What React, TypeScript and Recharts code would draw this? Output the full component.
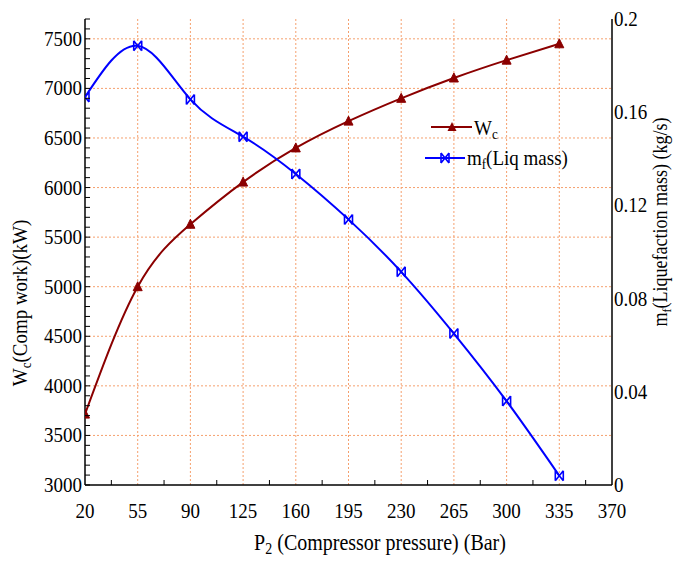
import React from 'react';
import { LineChart, Line, XAxis, YAxis, CartesianGrid } from 'recharts';

// ---- data ----
const pressure = [20, 55, 90, 125, 160, 195, 230, 265, 300, 335];
const compWork = [3715, 5000, 5630, 6055, 6400, 6670, 6900, 7105, 7285, 7450];
const liqMass = [0.1665, 0.1885, 0.1655, 0.1495, 0.1335, 0.114, 0.0915, 0.065, 0.036, 0.004];

const xMajorTicks = [20, 55, 90, 125, 160, 195, 230, 265, 300, 335, 370];
const xMinorTicks = [37.5, 72.5, 107.5, 142.5, 177.5, 212.5, 247.5, 282.5, 317.5, 352.5];
const leftMajorTicks = [3000, 3500, 4000, 4500, 5000, 5500, 6000, 6500, 7000, 7500];
const rightTicks = [0, 0.04, 0.08, 0.12, 0.16, 0.2];

const leftMinorStep = 100;
const leftDomain = [3000, 7700];

const leftAllTicks: number[] = [];
for (let v = leftDomain[0]; v <= leftDomain[1]; v += leftMinorStep) leftAllTicks.push(v);
const bottomAllTicks = [...xMajorTicks, ...xMinorTicks].sort((a, b) => a - b);

const data = pressure.map((p, i) => ({ p, wc: compWork[i], mf: liqMass[i] }));

const FONT = 'Liberation Serif';
const TS = { fontFamily: FONT };
const SY = 1.12; // vertical stretch of the reference's lettering
const WC_COLOR = '#8B0000';
const MF_COLOR = '#0000FF';
const GRID_COLOR = '#F5A06E';

const BottomTick = (props: any) => {
  const { x, y, payload } = props;
  const v = payload.value;
  const isMajor = xMajorTicks.includes(v);
  return (
    <g>
      {!isMajor && <line x1={x} x2={x} y1={y} y2={y - 5} stroke="#000" strokeWidth={1} />}
      {isMajor && (
        <text
          transform={`translate(${x},${y + 33}) scale(1,${SY})`}
          textAnchor="middle"
          style={TS}
          fontSize={19}
          fill="#000"
        >
          {v}
        </text>
      )}
    </g>
  );
};

const TopTick = (props: any) => {
  const { x, y } = props;
  return <line x1={x} x2={x} y1={y} y2={y + 5} stroke="#000" strokeWidth={1} />;
};

const LeftTick = (props: any) => {
  const { x, y, payload } = props;
  const v = payload.value;
  const isMajor = leftMajorTicks.includes(v);
  return (
    <g>
      <line x1={x} x2={x + 5} y1={y} y2={y} stroke="#000" strokeWidth={1} />
      {isMajor && (
        <text
          transform={`translate(${x - 3},${y + 7}) scale(1,${SY})`}
          textAnchor="end"
          style={TS}
          fontSize={19}
          fill="#000"
        >
          {v}
        </text>
      )}
    </g>
  );
};

const RightTick = (props: any) => {
  const { x, y, payload } = props;
  const v = payload.value;
  return (
    <text
      transform={`translate(${x + 2},${y + 7}) scale(1,${SY})`}
      textAnchor="start"
      style={TS}
      fontSize={19}
      fill="#000"
    >
      {v === 0 ? '0' : String(v)}
    </text>
  );
};

const TriangleDot = (props: any) => {
  const { cx, cy, index } = props;
  if (cx == null || cy == null) return <g key={index} />;
  return (
    <path
      key={index}
      d={`M${cx},${cy - 5} L${cx + 4.5},${cy + 4} L${cx - 4.5},${cy + 4} Z`}
      fill={WC_COLOR}
      stroke={WC_COLOR}
    />
  );
};

const BowtieDot = (props: any) => {
  const { cx, cy, index } = props;
  if (cx == null || cy == null) return <g key={index} />;
  const w = 4;
  const h = 5;
  return (
    <path
      key={index}
      d={`M${cx - w},${cy - h} L${cx - w},${cy + h} M${cx + w},${cy - h} L${cx + w},${cy + h} M${cx - w},${cy - h} L${cx + w},${cy + h} M${cx - w},${cy + h} L${cx + w},${cy - h}`}
      stroke={MF_COLOR}
      strokeWidth={1.6}
      fill="none"
    />
  );
};

export default function App() {
  return (
    <div style={{ position: 'absolute', left: 0, top: 0, width: 675, height: 562, background: '#fff' }}>
      <LineChart width={675} height={562} data={data} margin={{ top: 19, right: 0, bottom: 0, left: 0 }}>
        <CartesianGrid
          xAxisId="bottom"
          yAxisId="left"
          stroke={GRID_COLOR}
          strokeDasharray="2 2"
          strokeWidth={1}
          verticalValues={xMajorTicks.slice(1, -1)}
          horizontalValues={leftMajorTicks.slice(1)}
        />
        <XAxis
          xAxisId="bottom"
          dataKey="p"
          type="number"
          domain={[20, 370]}
          ticks={bottomAllTicks}
          interval={0}
          height={77}
          tickSize={0}
          tickMargin={0}
          tickLine={false}
          tick={<BottomTick />}
          axisLine={{ stroke: '#000', strokeWidth: 1.5 }}
          allowDataOverflow
        />
        <XAxis
          xAxisId="top"
          orientation="top"
          type="number"
          dataKey="p"
          domain={[20, 370]}
          ticks={xMinorTicks}
          interval={0}
          height={0}
          tickSize={0}
          tickMargin={0}
          tickLine={false}
          tick={<TopTick />}
          axisLine={{ stroke: '#000', strokeWidth: 1.5 }}
          allowDataOverflow
        />
        <YAxis
          yAxisId="left"
          type="number"
          domain={leftDomain}
          ticks={leftAllTicks}
          interval={0}
          width={85}
          tickSize={0}
          tickMargin={0}
          tickLine={false}
          tick={<LeftTick />}
          axisLine={{ stroke: '#000', strokeWidth: 1.5 }}
          allowDataOverflow
        />
        <YAxis
          yAxisId="right"
          orientation="right"
          type="number"
          domain={[0, 0.2]}
          ticks={rightTicks}
          interval={0}
          width={63}
          tickSize={0}
          tickMargin={0}
          tickLine={false}
          tick={<RightTick />}
          axisLine={{ stroke: '#000', strokeWidth: 1.5 }}
          allowDataOverflow
        />
        <Line
          xAxisId="bottom"
          yAxisId="left"
          type="natural"
          dataKey="wc"
          stroke={WC_COLOR}
          strokeWidth={2}
          dot={<TriangleDot />}
          activeDot={false}
          isAnimationActive={false}
        />
        <Line
          xAxisId="bottom"
          yAxisId="right"
          type="natural"
          dataKey="mf"
          stroke={MF_COLOR}
          strokeWidth={2}
          dot={<BowtieDot />}
          activeDot={false}
          isAnimationActive={false}
        />
      </LineChart>
      <svg
        width={675}
        height={562}
        style={{ position: 'absolute', left: 0, top: 0, pointerEvents: 'none' }}
      >
        <g style={TS} fill="#000">
          <text transform={`translate(380,550) scale(1,${SY})`} textAnchor="middle" fontSize={20}>
            P<tspan fontSize={14} dy={4}>2</tspan>
            <tspan dy={-4}> (Compressor pressure) (Bar)</tspan>
          </text>
          <text transform={`translate(27,303) rotate(-90) scale(1,${SY})`} textAnchor="middle" fontSize={19}>
            W<tspan fontSize={13} dy={4}>c</tspan>
            <tspan dy={-4}>(Comp work)(kW)</tspan>
          </text>
          <text transform={`translate(667,222) rotate(-90) scale(1,${SY})`} textAnchor="middle" fontSize={18}>
            m<tspan fontSize={12} dy={4}>f</tspan>
            <tspan dy={-4}>(Liquefaction mass) (kg/s)</tspan>
          </text>
          {/* legend */}
          <line x1={431} x2={472} y1={127} y2={127} stroke={WC_COLOR} strokeWidth={2} />
          <path d="M452,122 L456.5,131 L447.5,131 Z" fill={WC_COLOR} />
          <text transform={`translate(474,135) scale(1,${SY})`} fontSize={19}>
            W<tspan fontSize={13} dy={4}>c</tspan>
          </text>
          <line x1={425} x2={465} y1={158} y2={158} stroke={MF_COLOR} strokeWidth={2} />
          <path
            d="M441,153 L441,163 M449,153 L449,163 M441,153 L449,163 M441,163 L449,153"
            stroke={MF_COLOR}
            strokeWidth={1.6}
          />
          <text transform={`translate(467,165) scale(1,${SY})`} fontSize={19}>
            m<tspan fontSize={13} dy={4}>f</tspan>
            <tspan dy={-4}>(Liq mass)</tspan>
          </text>
        </g>
      </svg>
    </div>
  );
}
